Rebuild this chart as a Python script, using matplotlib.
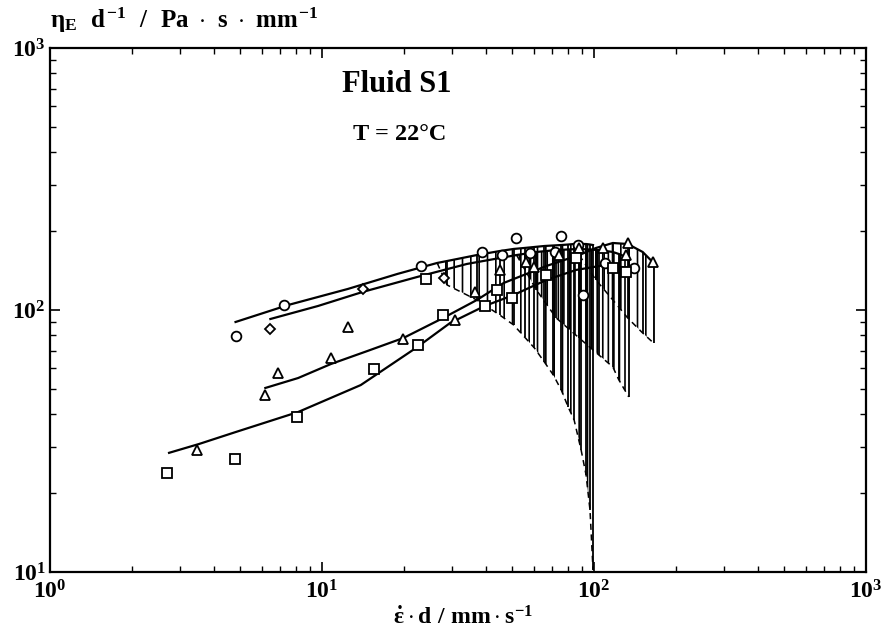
import numpy as np
import matplotlib
matplotlib.use("Agg")
import matplotlib.pyplot as plt

plt.rcParams['font.family'] = ['Liberation Serif', 'DejaVu Serif']
plt.rcParams['font.weight'] = 'bold'
plt.rcParams['mathtext.fontset'] = 'custom'
plt.rcParams['mathtext.rm'] = 'Liberation Serif:bold'
plt.rcParams['mathtext.it'] = 'Liberation Serif:bold'
plt.rcParams['mathtext.bf'] = 'Liberation Serif:bold'
plt.rcParams['hatch.linewidth'] = 1.2
plt.rcParams['hatch.color'] = 'black'

# ---------------- data ----------------
# measured points
circ_x = [4.81, 7.27, 23.17, 38.69, 45.77, 51.48, 58.40, 72.06, 75.79, 87.21, 90.97, 109.7, 140.0]
circ_y = [79.6, 104.5, 147.2, 166.5, 162.1, 188.3, 165.0, 166.5, 191.7, 177.0, 114.1, 151.2, 144.7]

diam_x = [6.46, 14.11, 28.11]
diam_y = [84.7, 120.3, 132.5]

tri_x = [3.46, 6.18, 6.91, 10.76, 12.51, 19.87, 30.91, 36.48, 45.01, 56.47, 60.39,
         74.52, 88.18, 107.9, 133.1, 130.9, 164.2]
tri_y = [29.2, 47.4, 57.6, 65.4, 86.4, 77.7, 91.6, 117.5, 142.2, 152.9, 146.4,
         162.1, 172.5, 172.5, 180.2, 162.1, 152.9]

sq_x = [2.70, 4.80, 8.11, 15.57, 22.54, 27.81, 24.11, 39.91, 43.88, 49.78, 66.81,
        85.98, 117.3, 130.9]
sq_y = [23.8, 27.0, 39.2, 59.4, 73.5, 95.7, 131.0, 103.6, 119.2, 111.1, 136.1,
        157.9, 144.7, 140.1]

# fitted curves and lower bounds of the scatter band
circ_fx = [4.81, 7.51, 12.44, 18.94, 26.51, 28.83, 37.10, 45.01, 50.63, 55.53, 60.39,
           65.70, 70.86, 75.79, 80.40, 84.53, 89.68, 93.49, 96.69, 99.17]
circ_fy = [90.0, 104.5, 120.3, 137.3, 151.2, 153.8, 162.1, 167.9, 171.0, 172.5, 174.0,
           175.5, 176.3, 177.0, 177.8, 178.6, 178.6, 178.6, 177.8, 177.0]
circ_lo = [90.0, 104.5, 120.3, 137.3, 151.2, 124.6, 109.2, 95.7, 87.7, 78.9, 71.6,
           63.3, 56.5, 49.5, 42.6, 38.0, 29.2, 23.5, 17.2, 10.2]

diam_fx = [6.46, 9.67, 14.11, 22.40, 34.11, 51.91, 61.42, 72.66, 88.18, 104.3, 117.3, 123.4, 134.2]
diam_fy = [92.4, 103.6, 117.2, 133.7, 149.9, 162.1, 166.5, 169.4, 171.0, 169.4, 166.5, 163.6, 157.9]
diam_lo = [92.4, 103.6, 117.2, 133.7, 149.9, 162.1, 119.2, 93.2, 78.2, 67.3, 60.6, 54.1, 46.6]

tri_fx = [6.19, 8.17, 10.78, 14.72, 19.92, 27.88, 37.10, 46.55, 66.81, 88.18, 101.7,
          117.3, 133.1, 151.0, 165.6]
tri_fy = [50.4, 55.0, 62.2, 69.8, 78.2, 93.2, 109.2, 126.8, 147.2, 162.1, 172.5,
          180.2, 178.6, 166.5, 151.2]
tri_lo = [50.4, 55.0, 62.2, 69.8, 78.2, 93.2, 109.2, 126.8, 147.2, 162.1, 130.2,
          109.2, 93.2, 81.7, 74.8]

sq_fx = [2.74, 3.53, 4.81, 8.17, 13.88, 22.40, 29.57, 39.67, 50.63, 66.81, 85.98, 110.6, 134.2]
sq_fy = [28.5, 30.8, 34.2, 40.8, 51.7, 72.2, 89.2, 103.6, 114.1, 130.2, 142.2, 148.6, 144.7]

x_ticks = [1, 10, 100, 1000]
x_ticklabels = [r'$10^{0}$', r'$10^{1}$', r'$10^{2}$', r'$10^{3}$']
y_ticks = [10, 100, 1000]
y_ticklabels = [r'$10^{1}$', r'$10^{2}$', r'$10^{3}$']

# ---------------- figure ----------------
W, H = 886, 634
fig = plt.figure(figsize=(W / 100, H / 100), dpi=100)
ax = fig.add_axes([50 / W, 1 - 572 / H, (866 - 50) / W, (572 - 48) / H])
ax.set_xscale('log')
ax.set_yscale('log')
ax.set_xlim(1, 1000)
ax.set_ylim(10, 1000)

def band(fx, fy, lo, hatch):
    fx = np.asarray(fx); fy = np.asarray(fy); lo = np.asarray(lo)
    ax.fill_between(fx, lo, fy, facecolor='none', edgecolor='black',
                    hatch=hatch, linewidth=0, zorder=1)
    idx = np.where(lo < fy)[0]
    if len(idx):
        ax.vlines(fx[idx], lo[idx], fy[idx], color='black', lw=1.3, zorder=2)
        i0 = max(idx[0] - 1, 0)
        ax.plot(fx[i0:], lo[i0:], ls=(0, (4, 3)), color='black', lw=1.1, zorder=2)

band(circ_fx, circ_fy, circ_lo, '||')
band(diam_fx, diam_fy, diam_lo, '|||')
band(tri_fx, tri_fy, tri_lo, '||')

for fx, fy in [(circ_fx, circ_fy), (diam_fx, diam_fy), (tri_fx, tri_fy), (sq_fx, sq_fy)]:
    ax.plot(fx, fy, color='black', lw=1.6, zorder=3)

mk = dict(ls='none', mfc='white', mec='black', mew=1.3, zorder=4)
ax.plot(circ_x, circ_y, marker='o', ms=7, **mk)
ax.plot(diam_x, diam_y, marker='D', ms=5.5, **mk)
ax.plot(tri_x, tri_y, marker='^', ms=7.5, **mk)
ax.plot(sq_x, sq_y, marker='s', ms=7, **mk)

ax.set_xticks(x_ticks)
ax.set_xticklabels(x_ticklabels)
ax.set_yticks(y_ticks)
ax.set_yticklabels(y_ticklabels)
ax.tick_params(which='both', direction='in', top=True, right=True, labelsize=17)
ax.tick_params(which='major', length=7, width=1.2)
ax.tick_params(which='minor', length=4, width=1.0)
ax.tick_params(axis='x', pad=6)
ax.tick_params(axis='y', pad=3)
for s in ax.spines.values():
    s.set_linewidth(1.6)

fig.text(50 / W, 1 - 20 / H,
         r'$\eta_{E}\ \ d^{-1}\ \ /\ \ Pa\ \cdot\ s\ \cdot\ mm^{-1}$',
         ha='left', va='center', fontsize=18)
fig.text(463 / W, 1 - 618 / H,
         r'$\dot{\varepsilon}\cdot d\ /\ mm\cdot s^{-1}$',
         ha='center', va='center', fontsize=17)
fig.text(397 / W, 1 - 84 / H, 'Fluid S1', ha='center', va='center',
         fontsize=22, fontweight='bold')
fig.text(400 / W, 1 - 134 / H, 'T = 22°C', ha='center', va='center',
         fontsize=17.5, fontweight='bold')

fig.savefig('out.png', dpi=100)
